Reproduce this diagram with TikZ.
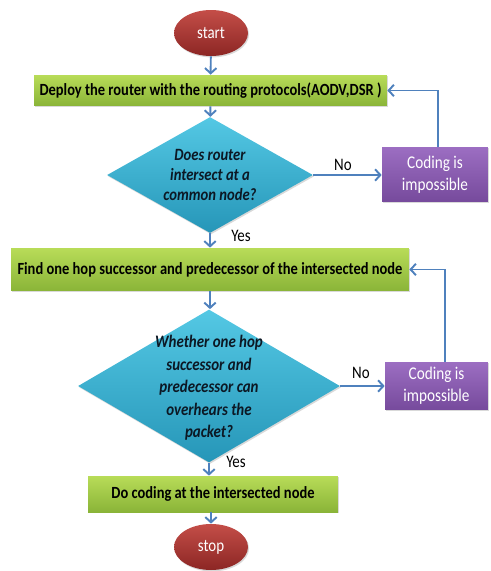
\documentclass[tikz,border=0pt]{standalone}
\usepackage{fontspec}
\setmainfont{Carlito}[FakeStretch=0.85]
\usepackage{xcolor}
\usepackage{tikz}
\usetikzlibrary{arrows.meta,shapes.geometric,shadows}

\definecolor{redtop}{RGB}{196,78,72}
\definecolor{redbot}{RGB}{140,38,36}
\definecolor{greentop}{RGB}{184,220,88}
\definecolor{greenbot}{RGB}{138,180,56}
\definecolor{cyantop}{RGB}{84,200,228}
\definecolor{cyanbot}{RGB}{38,150,184}
\definecolor{purpletop}{RGB}{156,110,194}
\definecolor{purplebot}{RGB}{118,74,156}
\definecolor{flowblue}{RGB}{79,129,189}
\definecolor{darktext}{RGB}{12,24,36}

\begin{document}
\begin{tikzpicture}[x=0.02cm,y=-0.02cm,
  terminal/.style={ellipse,minimum width=1.48cm,minimum height=0.92cm,inner sep=0pt,
    top color=redtop,bottom color=redbot,text=white,font=\fontsize{10}{12}\selectfont,
    drop shadow={shadow xshift=0.6pt,shadow yshift=-0.8pt,opacity=0.3}},
  process/.style={rectangle,inner sep=0pt,top color=greentop,bottom color=greenbot,
    font=\bfseries\fontsize{9.7}{11}\selectfont,
    drop shadow={shadow xshift=0.6pt,shadow yshift=-0.8pt,opacity=0.3}},
  decision/.style={diamond,inner sep=0pt,top color=cyantop,bottom color=cyanbot,
    drop shadow={shadow xshift=0.6pt,shadow yshift=-0.8pt,opacity=0.3}},
  dectext/.style={align=center,inner sep=0pt,text=darktext,
    font=\bfseries\itshape\fontsize{9.8}{11.6}\selectfont},
  failbox/.style={rectangle,inner sep=0pt,top color=purpletop,bottom color=purplebot,
    text=white,align=center,font=\fontsize{10.2}{12.5}\selectfont,
    drop shadow={shadow xshift=0.6pt,shadow yshift=-0.8pt,opacity=0.3}},
  flow/.style={draw=flowblue,line width=1.1pt,-{Straight Barb[length=3pt,width=6.5pt]}},
  answer/.style={inner sep=0pt,font=\fontsize{10}{12}\selectfont}
]
\useasboundingbox (0,0) rectangle (490,571);

% Terminals
\node[terminal] (start) at (211,33) {start};
\node[terminal] (stop) at (211,547) {stop};

% Process boxes
\node[process,minimum width=7.06cm,minimum height=0.62cm] (deploy) at (210.5,90.5)
  {Deploy the router with the routing protocols(AODV,DSR )};
\node[process,minimum width=7.96cm,minimum height=0.86cm] (find) at (210,269.5)
  {Find one hop successor and predecessor of the intersected node};
\node[process,minimum width=5cm,minimum height=0.72cm] (docode) at (213,494)
  {Do coding at the intersected node};

% Decisions
\node[decision,minimum width=4.12cm,minimum height=2.32cm] (meet) at (210,175) {};
\node[dectext] (meettext) at (meet) {Does router\\intersect at a\\common node?};
\node[decision,minimum width=5.24cm,minimum height=3.06cm] (hear) at (209,386) {};
\node[dectext,font=\bfseries\itshape\fontsize{10}{12.8}\selectfont] (heartext) at (209,388)
  {Whether one hop\\successor and\\predecessor can\\overhears the\\packet?};

% Failure boxes
\node[failbox,minimum width=2.12cm,minimum height=1.1cm] (fail1) at (435,174.5)
  {Coding is\\impossible};
\node[failbox,minimum width=2.06cm,minimum height=0.96cm] (fail2) at (436.5,386)
  {Coding is\\impossible};

% Main flow
\draw[flow] (start) -- (deploy);
\draw[flow] (deploy) -- (meet);
\draw[flow] (meet.south) -- (meet.south |- find.north);
\draw[flow] (find.south) -- (find.south |- hear.north);
\draw[flow] (hear.south) -- (hear.south |- docode.north);
\draw[flow] (docode.south -| stop.north) -- (stop.north);

% No branches and loops back
\draw[flow] (meet.east) -- (meet.east -| fail1.west);
\draw[flow] (hear.east) -- (hear.east -| fail2.west);
\draw[flow] ([xshift=0.06cm]fail1.north) |- (deploy.east);
\draw[flow] ([xshift=0.17cm]fail2.north) |- (find.east);

% Labels
\node[answer] (no1) at (343,165) {No};
\node[answer] (yes1) at (241,236) {Yes};
\node[answer] (no2) at (361,373) {No};
\node[answer] (yes2) at (236,462) {Yes};
\end{tikzpicture}
\end{document}
